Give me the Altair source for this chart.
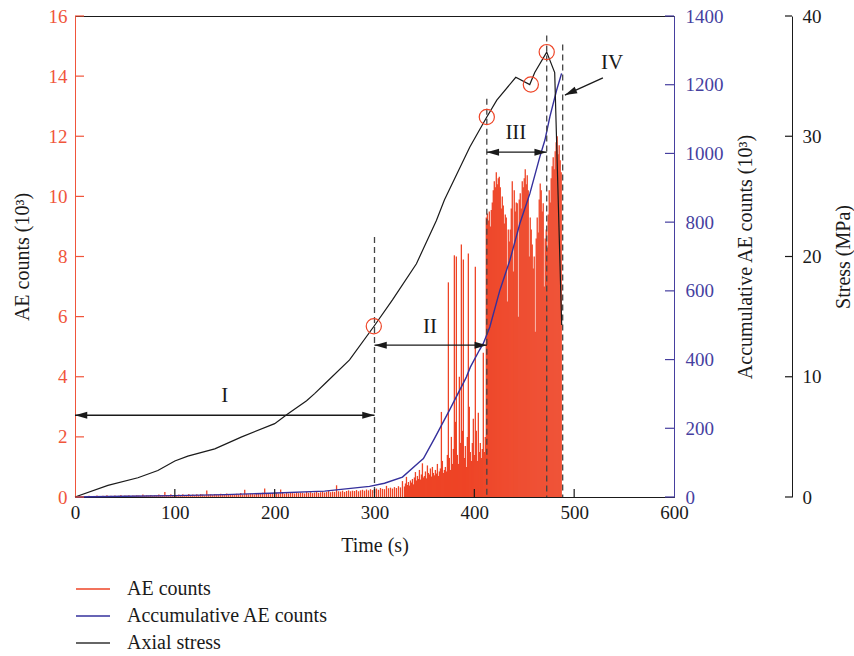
import altair as alt
import pandas as pd

# ---------------- data ----------------
# AE counts (10^3): sparse sampling (2 s) before 330 s, 1 s afterwards
ae_time_low = list(range(0, 330, 2))
ae_low = [
    0.00, 0.01, 0.02, 0.01, 0.03, 0.02, 0.01, 0.04, 0.02, 0.03,
    0.02, 0.05, 0.03, 0.02, 0.04, 0.03, 0.06, 0.02, 0.04, 0.03,
    0.05, 0.03, 0.04, 0.07, 0.03, 0.05, 0.04, 0.06, 0.03, 0.05,
    0.04, 0.06, 0.05, 0.03, 0.08, 0.04, 0.06, 0.05, 0.07, 0.04,
    0.06, 0.05, 0.08, 0.06, 0.05, 0.17, 0.07, 0.06, 0.09, 0.05,
    0.07, 0.06, 0.08, 0.05, 0.09, 0.07, 0.06, 0.10, 0.07, 0.08,
    0.06, 0.09, 0.07, 0.10, 0.08, 0.06, 0.22, 0.08, 0.09, 0.07,
    0.10, 0.08, 0.07, 0.11, 0.09, 0.08, 0.12, 0.07, 0.10, 0.09,
    0.08, 0.11, 0.09, 0.13, 0.08, 0.24, 0.10, 0.09, 0.12, 0.10,
    0.09, 0.13, 0.11, 0.10, 0.14, 0.28, 0.11, 0.12, 0.10, 0.13,
    0.11, 0.14, 0.12, 0.25, 0.13, 0.11, 0.15, 0.12, 0.14, 0.13,
    0.12, 0.16, 0.13, 0.15, 0.14, 0.12, 0.17, 0.14, 0.16, 0.13,
    0.15, 0.18, 0.14, 0.16, 0.19, 0.15, 0.17, 0.20, 0.16, 0.18,
    0.17, 0.39, 0.19, 0.18, 0.21, 0.17, 0.20, 0.22, 0.19, 0.21,
    0.20, 0.23, 0.19, 0.22, 0.24, 0.21, 0.25, 0.22, 0.26, 0.23,
    0.25, 0.28, 0.24, 0.30, 0.27, 0.26, 0.37, 0.29, 0.31, 0.28,
    0.33, 0.30, 0.36, 0.32, 0.53,
]
ae_time_high = list(range(330, 488))
ae_high = [
    0.35, 0.45, 0.67, 0.40, 0.50, 0.38, 0.55, 0.48, 0.60, 0.42,
    0.65, 0.83, 0.55, 0.70, 0.60, 0.90, 0.58, 0.75, 1.12, 0.65,
    0.70, 0.85, 0.62, 1.05, 0.80, 0.75, 0.95, 0.68, 1.00, 0.80,
    0.72, 0.90, 0.78, 1.10, 0.70, 0.85, 0.95, 2.83, 1.20, 0.80,
    0.90, 1.00, 0.85, 1.40, 7.14, 1.30, 0.90, 2.00, 1.10, 1.60,
    8.04, 2.50, 8.00, 1.40, 1.10, 4.00, 1.80, 8.40, 2.20, 7.90,
    1.30, 1.70, 1.00, 2.00, 8.10, 3.00, 1.50, 1.20, 1.80, 2.60,
    1.40, 7.66, 2.20, 1.20, 2.80, 1.50, 1.80, 1.30, 1.60, 4.80,
    1.50, 2.00, 9.30, 9.43, 9.20, 9.50, 9.00, 9.55, 9.80, 10.20,
    10.50, 10.30, 10.80, 10.40, 10.60, 10.65, 10.30, 9.60, 10.00, 9.70,
    9.10, 9.40, 9.30, 6.50, 8.90, 8.50, 8.90, 9.60, 10.50, 7.50,
    10.20, 9.50, 9.80, 9.77, 6.00, 9.90, 10.10, 9.60, 10.50, 10.30,
    10.60, 10.90, 10.40, 10.70, 10.20, 8.00, 9.30, 8.90, 8.40, 7.60,
    8.00, 5.50, 8.60, 9.30, 8.80, 9.90, 10.43, 10.20, 9.50, 9.77,
    7.00, 8.60, 8.90, 8.30, 9.40, 10.20, 9.80, 10.60, 11.00, 11.30,
    10.90, 11.50, 11.80, 12.00, 11.40, 11.70, 11.20, 10.80,
]

# Accumulative AE counts (10^3)
acc_time = [0, 50, 100, 150, 195, 250, 295, 310, 328, 345, 349, 360, 375, 392,
            396, 405, 409, 415.5, 425.6, 435.6, 445.6, 455.6, 465.6, 470.7,
            475.7, 482.4, 487.4]
acc_vals = [0, 2, 4, 7, 11, 17, 31, 40, 58, 102, 112, 170, 252, 349,
            378, 427, 447, 495, 602, 689, 796, 883, 990, 1039,
            1107, 1184, 1233]

# Axial stress (MPa)
stress_time = [0, 33, 63, 83, 100, 113, 140, 167, 200, 213, 232, 240, 250, 275,
               299.5, 318, 342, 362, 370, 395.5, 412.5, 422.5, 441.5, 455.5,
               460.5, 472.5, 480.5, 487.5]
stress_vals = [0, 0.97, 1.6, 2.2, 3.0, 3.4, 4.0, 5.0, 6.1, 6.9, 8.0, 8.6, 9.4, 11.4,
               14.2, 16.4, 19.4, 23.0, 24.7, 29.1, 31.6, 33.0, 34.9, 34.3,
               35.3, 37.0, 35.3, 14.3]

# stage annotations
stage_bounds = [300, 412.5, 472.5, 488.5]
stage_tops = [8.65, 13.25, 15.35, 15.05]
arrow_start = [0, 300, 412.5]
arrow_end = [300, 412.5, 472.5]
arrow_level = [2.72, 5.05, 11.47]
stage_labels = ["I", "II", "III", "IV"]
label_time = [150, 355.5, 441.6, 537.9]
label_level = [3.36, 5.65, 12.1, 14.44]
iv_tail_time, iv_tail_level = [528.8], [13.94]
iv_tip_time, iv_tip_level = [490.7], [13.37]
circle_time = [299.3, 412.5, 456.6, 472.5]
circle_stress = [14.2, 31.6, 34.3, 37.0]

time_ticks = [0, 100, 200, 300, 400, 500, 600]
time_inner_ticks = [100, 200, 300, 400, 500]
ae_ticks = [0, 2, 4, 6, 8, 10, 12, 14, 16]
acc_ticks = [0, 200, 400, 600, 800, 1000, 1200, 1400]
stress_ticks = [0, 10, 20, 30, 40]

legend_labels = ["AE counts", "Accumulative AE counts", "Axial stress"]

# ---------------- style ----------------
W, H = 599, 481
ST_OFF = 118
FONT = "Liberation Serif"
RED = "#ee4426"
RED_AX = "#f0553b"
BLUE = "#35309c"
BLUE_AX = "#463f9f"
BLACK = "#1a1a1a"
LEFT_HEAD = "M0,0L2,-0.58L2,0.58Z"
RIGHT_HEAD = "M0,0L-2,-0.58L-2,0.58Z"
LABEL_FS = 19
TITLE_FS = 20

common_axis = dict(ticks=False, grid=False, labelFont=FONT, titleFont=FONT, labelFlush=False,
                   labelFontSize=LABEL_FS, titleFontSize=TITLE_FS, titleFontWeight="normal")

x_axis = alt.Axis(title="Time (s)", values=time_ticks, labelPadding=6, titlePadding=13,
                  domainColor=BLACK, labelColor=BLACK, titleColor=BLACK, **common_axis)
ae_axis = alt.Axis(title="AE counts (10³)", orient="left", values=ae_ticks, labelPadding=8,
                   titlePadding=16, domainColor=RED_AX, labelColor=RED_AX,
                   titleColor=BLACK, **common_axis)
acc_axis = alt.Axis(title="Accumulative AE counts (10³)", orient="right", values=acc_ticks,
                    format="d", labelPadding=11, titlePadding=12, titleAngle=270,
                    titleBaseline="top",
                    domainColor=BLUE_AX, labelColor=BLUE_AX, titleColor=BLACK, **common_axis)
st_axis = alt.Axis(title="Stress (MPa)", orient="right", offset=ST_OFF, values=stress_ticks,
                   format="d", labelPadding=10, titlePadding=12, titleAngle=270,
                   titleBaseline="top",
                   domainColor=BLACK, labelColor=BLACK, titleColor=BLACK, **common_axis)


def X(field):
    return alt.X(f"{field}:Q", scale=alt.Scale(domain=[0, 600], nice=False, zero=False),
                 axis=x_axis)


def YA(field, axis=None):
    return alt.Y(f"{field}:Q", scale=alt.Scale(domain=[0, 16], nice=False), axis=axis)


def YC(field, axis=None):
    return alt.Y(f"{field}:Q", scale=alt.Scale(domain=[0, 1400], nice=False), axis=axis)


def YS(field, axis=None):
    return alt.Y(f"{field}:Q", scale=alt.Scale(domain=[0, 40], nice=False), axis=axis)


# ---------------- AE layers ----------------
ae_df = pd.DataFrame({"t": ae_time_low + ae_time_high, "v": ae_low + ae_high})
bars = alt.Chart(ae_df).mark_rule(color=RED, strokeWidth=1.3).encode(
    x=X("t"), y=YA("v", ae_axis), y2=alt.datum(0))

dash_df = pd.DataFrame({"t": stage_bounds, "top": stage_tops})
dashes = alt.Chart(dash_df).mark_rule(color="#444444", strokeWidth=1.3, strokeDash=[6, 4]).encode(
    x=X("t"), y=YA("top"), y2=alt.datum(0))

arr_df = pd.DataFrame({"a": arrow_start, "b": arrow_end, "lv": arrow_level})
arr_lines = alt.Chart(arr_df).mark_rule(color=BLACK, strokeWidth=1.3).encode(
    x=X("a"), x2="b:Q", y=YA("lv"))
left_heads = alt.Chart(arr_df).mark_point(shape=LEFT_HEAD, filled=True, size=150,
                                          color=BLACK, opacity=1).encode(x=X("a"), y=YA("lv"))
right_heads = alt.Chart(arr_df).mark_point(shape=RIGHT_HEAD, filled=True, size=150,
                                           color=BLACK, opacity=1).encode(x=X("b"), y=YA("lv"))

iv_df = pd.DataFrame({"t0": iv_tail_time, "v0": iv_tail_level, "t1": iv_tip_time, "v1": iv_tip_level})
iv_line = alt.Chart(iv_df).mark_rule(color=BLACK, strokeWidth=1.3).encode(
    x=X("t0"), x2="t1:Q", y=YA("v0"), y2="v1:Q")
iv_head = alt.Chart(iv_df).mark_point(shape=LEFT_HEAD, filled=True, size=150, angle=335.9,
                                      color=BLACK, opacity=1).encode(x=X("t1"), y=YA("v1"))

lab_df = pd.DataFrame({"t": label_time, "lv": label_level, "txt": stage_labels})
labels = alt.Chart(lab_df).mark_text(font=FONT, fontSize=21, color=BLACK).encode(
    x=X("t"), y=YA("lv"), text="txt:N")

ae_tick_df = pd.DataFrame({"v": ae_ticks})
ae_tickmarks = alt.Chart(ae_tick_df).mark_rule(color=RED_AX, strokeWidth=1.2).encode(
    y=YA("v"), x=alt.value(0), x2=alt.value(9))
xt_df = pd.DataFrame({"t": time_inner_ticks})
x_tickmarks = alt.Chart(xt_df).mark_rule(color=BLACK, strokeWidth=1.2).encode(
    x=X("t"), y=alt.value(H - 8), y2=alt.value(H))

# ---------------- accumulative ----------------
acc_df = pd.DataFrame({"t": acc_time, "v": acc_vals})
acc_line = alt.Chart(acc_df).mark_line(color=BLUE, strokeWidth=1.4).encode(
    x=X("t"), y=YC("v", acc_axis))
acc_tick_df = pd.DataFrame({"v": acc_ticks})
acc_tickmarks = alt.Chart(acc_tick_df).mark_rule(color=BLUE_AX, strokeWidth=1.2).encode(
    y=YC("v"), x=alt.value(W - 9), x2=alt.value(W))

# ---------------- stress ----------------
st_df = pd.DataFrame({"t": stress_time, "v": stress_vals})
st_line = alt.Chart(st_df).mark_line(color=BLACK, strokeWidth=1.2).encode(
    x=X("t"), y=YS("v", st_axis))
circ_df = pd.DataFrame({"t": circle_time, "v": circle_stress})
circles = alt.Chart(circ_df).mark_point(shape="circle", size=230, filled=False, color=RED,
                                        strokeWidth=1.2, opacity=1).encode(
    x=X("t"), y=YS("v"))
st_tick_df = pd.DataFrame({"v": stress_ticks})
st_tickmarks = alt.Chart(st_tick_df).mark_rule(color=BLACK, strokeWidth=1.2).encode(
    y=YS("v"), x=alt.value(W + ST_OFF - 7), x2=alt.value(W + ST_OFF))

# ---------------- legend ----------------
legend_colors = [RED, BLUE, "#333333"]
legend_layers = []
for i, (lab, col) in enumerate(zip(legend_labels, legend_colors)):
    ypix = 573 + 27 * i
    d = pd.DataFrame({"lab": [lab]})
    legend_layers.append(alt.Chart(d).mark_rule(color=col, strokeWidth=1.3).encode(
        x=alt.value(1), x2=alt.value(35), y=alt.value(ypix)))
    legend_layers.append(alt.Chart(d).mark_text(font=FONT, fontSize=20, color=BLACK,
                                                align="left", baseline="middle").encode(
        x=alt.value(52), y=alt.value(ypix), text="lab:N"))

chart = alt.layer(
    bars, acc_line, st_line,
    dashes, arr_lines, left_heads, right_heads, iv_line, iv_head, labels,
    circles, ae_tickmarks, x_tickmarks, acc_tickmarks, st_tickmarks,
    *legend_layers,
).resolve_scale(
    y="independent"
).properties(
    width=W, height=H,
    autosize=alt.AutoSizeParams(type="none"),
    padding={"left": 75, "top": 16, "right": 854 - 75 - W, "bottom": 656 - 16 - H},
).configure(font=FONT).configure_view(stroke=BLACK, strokeWidth=1)

chart.save("out.html", embed_options={"renderer": "svg", "actions": False})
